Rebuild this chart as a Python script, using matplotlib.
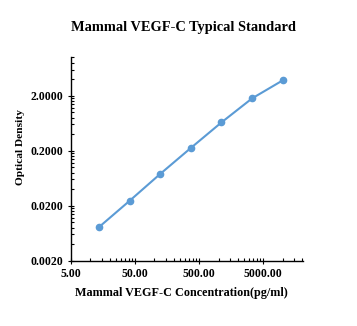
import numpy as np
import matplotlib.pyplot as plt
from matplotlib.ticker import FixedLocator, NullFormatter

# 数据
conc = [13.7, 41.2, 123.5, 370.4, 1111.1, 3333.3, 10000.0]
od = [0.0082, 0.0247, 0.076, 0.225, 0.655, 1.79, 3.8]
x_ticks = [5, 50, 500, 5000]
x_labels = ['5.00', '50.00', '500.00', '5000.00']
y_ticks = [0.002, 0.02, 0.2, 2.0]
y_labels = ['0.0020', '0.0200', '0.2000', '2.0000']

plt.rcParams['font.family'] = ['Liberation Serif', 'DejaVu Serif']

fig = plt.figure(figsize=(3.57, 3.26), dpi=100)
ax = fig.add_axes([0.199, 0.2003, 0.6506, 0.6239])

ax.plot(conc, od, '-o', color='#5B9BD5', lw=1.5, ms=4.5)

ax.set_xscale('log')
ax.set_yscale('log')
ax.set_xlim(5, 21000)
ax.set_ylim(0.002, 10)

ax.xaxis.set_major_locator(FixedLocator(x_ticks))
ax.set_xticklabels(x_labels)
ax.xaxis.set_minor_locator(FixedLocator([t * m for t in x_ticks for m in range(2, 10)]))
ax.xaxis.set_minor_formatter(NullFormatter())
ax.yaxis.set_major_locator(FixedLocator(y_ticks))
ax.set_yticklabels(y_labels)
ax.yaxis.set_minor_locator(FixedLocator([t * m for t in y_ticks for m in range(2, 10)]))
ax.yaxis.set_minor_formatter(NullFormatter())

ax.tick_params(which='major', direction='inout', length=5, width=0.8, labelsize=8.5, pad=3)
ax.tick_params(which='minor', direction='in', length=2.5, width=0.8)
for lab in ax.get_xticklabels() + ax.get_yticklabels():
    lab.set_fontweight('bold')

for s in ['top', 'right']:
    ax.spines[s].set_visible(False)
for s in ['left', 'bottom']:
    ax.spines[s].set_linewidth(1.0)

fig.text(0.513, 0.917, 'Mammal VEGF-C Typical Standard', ha='center', va='center',
         fontsize=10.4, fontweight='bold')
fig.text(0.508, 0.101, 'Mammal VEGF-C Concentration(pg/ml)', ha='center', va='center',
         fontsize=8.75, fontweight='bold')
fig.text(0.058, 0.55, 'Optical Density', ha='center', va='center', rotation=90,
         fontsize=8.2, fontweight='bold')

fig.savefig('out.png', dpi=100)
